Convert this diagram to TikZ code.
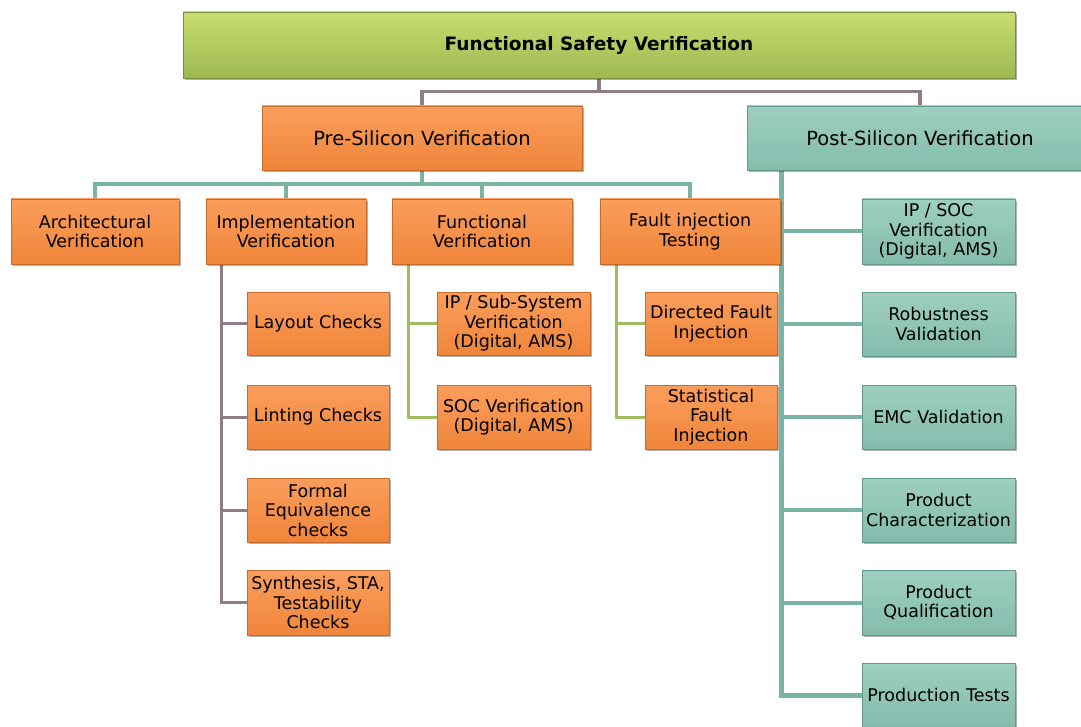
\documentclass[tikz,border=0pt]{standalone}
\usepackage{fontspec}
\setmainfont{DejaVu Sans}
\usetikzlibrary{shadows,backgrounds}

% palette
\definecolor{orL}{RGB}{250,158,92}
\definecolor{orM}{RGB}{247,141,66}
\definecolor{orB}{RGB}{240,133,58}
\definecolor{orD}{RGB}{200,108,46}
\definecolor{tlL}{RGB}{158,207,192}
\definecolor{tlM}{RGB}{141,196,180}
\definecolor{tlB}{RGB}{132,188,172}
\definecolor{tlD}{RGB}{100,154,140}
\definecolor{grL}{RGB}{200,221,112}
\definecolor{grM}{RGB}{184,206,96}
\definecolor{grB}{RGB}{158,184,80}
\definecolor{grD}{RGB}{122,142,62}
\definecolor{lnGrey}{RGB}{142,124,135}
\definecolor{lnTeal}{RGB}{122,180,165}
\definecolor{lnGreen}{RGB}{160,190,95}

\begin{document}
\begin{tikzpicture}[x=1pt,y=-1pt,
  base/.style={rectangle, inner sep=0pt, align=center, line width=0.8pt,
    font=\fontsize{17.5}{19.5}\selectfont,
    drop shadow={shadow xshift=1.5pt, shadow yshift=-2pt, opacity=0.3, fill=black}},
  obox/.style={base, draw=orD, top color=orL, middle color=orM, bottom color=orB},
  tbox/.style={base, draw=tlD, top color=tlL, middle color=tlM, bottom color=tlB},
  gbox/.style={base, draw=grD, top color=grL, middle color=grM, bottom color=grB},
  greyline/.style={draw=lnGrey, line width=3.5pt},
  tealline/.style={draw=lnTeal, line width=4pt},
  greenline/.style={draw=lnGreen, line width=3pt},
]
\useasboundingbox (0,0) rectangle (1081,727);

% top level
\node[gbox, minimum width=832, minimum height=66,
      font=\bfseries\fontsize{18.5}{22}\selectfont] (fsv) at (599,45) {Functional Safety Verification};

% second level
\node[obox, minimum width=320, minimum height=64, font=\fontsize{19.5}{22}\selectfont] (pre) at (422,138) {Pre-Silicon Verification};
\node[tbox, minimum width=346, minimum height=64, font=\fontsize{19.5}{22}\selectfont] (post) at (920,138) {Post-Silicon Verification};

% pre-silicon branches
\node[obox, minimum width=168, minimum height=65] (arch)  at (95,231.5)  {Architectural\\Verification};
\node[obox, minimum width=160, minimum height=65] (impl)  at (286,231.5) {Implementation\\Verification};
\node[obox, minimum width=180, minimum height=65] (func)  at (482,231.5) {Functional\\Verification};
\node[obox, minimum width=180, minimum height=65] (fault) at (690,231.5) {Fault injection\\Testing};

% implementation checks
\node[obox, minimum width=142, minimum height=63] (layout) at (318,323.5) {Layout Checks};
\node[obox, minimum width=142, minimum height=64] (lint)   at (318,417)   {Linting Checks};
\node[obox, minimum width=142, minimum height=64] (formal) at (318,510)   {Formal\\Equivalence\\checks};
\node[obox, minimum width=142, minimum height=65] (synth)  at (318,602.5) {Synthesis, STA,\\Testability\\Checks};

% functional verification
\node[obox, minimum width=153, minimum height=63] (ipsub) at (513.5,323.5) {IP / Sub-System\\Verification\\(Digital, AMS)};
\node[obox, minimum width=153, minimum height=64] (socv)  at (513.5,417)   {SOC Verification\\(Digital, AMS)};

% fault injection
\node[obox, minimum width=132, minimum height=63] (dfi) at (711,323.5) {Directed Fault\\Injection};
\node[obox, minimum width=132, minimum height=64] (sfi) at (711,417)   {Statistical\\Fault\\Injection};

% post-silicon branches
\node[tbox, minimum width=153, minimum height=65] (ipsoc) at (938.5,231.5) {IP / SOC\\Verification\\(Digital, AMS)};
\node[tbox, minimum width=153, minimum height=64] (robu)  at (938.5,324)   {Robustness\\Validation};
\node[tbox, minimum width=153, minimum height=64] (emc)   at (938.5,417)   {EMC Validation};
\node[tbox, minimum width=153, minimum height=64] (pchar) at (938.5,510)   {Product\\Characterization};
\node[tbox, minimum width=153, minimum height=65] (pqual) at (938.5,602.5) {Product\\Qualification};
\node[tbox, minimum width=153, minimum height=64] (ptest) at (938.5,695)   {Production Tests};

% connectors, kept behind the boxes
\begin{scope}[on background layer]
\draw[greyline] (fsv.south) -- ++(0,14);
\draw[greyline] (pre.north) -- ++(0,-14) -| (post.north);

\draw[tealline] (pre.south) -- ++(0,14);
\draw[tealline] (arch.north) -- ++(0,-15) -| (fault.north);
\draw[tealline] (impl.north) -- ++(0,-15);
\draw[tealline] (func.north) -- ++(0,-15);

\coordinate (iS) at ([xshift=16pt]impl.south west);
\draw[greyline, line width=3pt] (iS) |- (synth.west);
\draw[greyline, line width=3pt] (layout.west) -- (layout.west -| iS);
\draw[greyline, line width=3pt] (lint.west) -- (lint.west -| iS);
\draw[greyline, line width=3pt] (formal.west) -- (formal.west -| iS);

\coordinate (fS) at ([xshift=17pt]func.south west);
\draw[greenline] (fS) |- (socv.west);
\draw[greenline] (ipsub.west) -- (ipsub.west -| fS);

\coordinate (qS) at ([xshift=17pt]fault.south west);
\draw[greenline] (qS) |- (sfi.west);
\draw[greenline] (dfi.west) -- (dfi.west -| qS);

\coordinate (pS) at ([xshift=35pt]post.south west);
\draw[tealline, line width=5pt] (pS) |- (ptest.west);
\draw[tealline] (ipsoc.west) -- (ipsoc.west -| pS);
\draw[tealline] (robu.west) -- (robu.west -| pS);
\draw[tealline] (emc.west) -- (emc.west -| pS);
\draw[tealline] (pchar.west) -- (pchar.west -| pS);
\draw[tealline] (pqual.west) -- (pqual.west -| pS);
\end{scope}
\end{tikzpicture}
\end{document}
